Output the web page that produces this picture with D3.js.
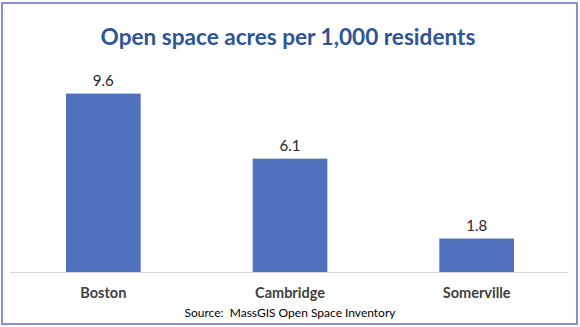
<!DOCTYPE html>
<html>
<head>
<meta charset="utf-8">
<script src="https://cdn.jsdelivr.net/npm/d3@7"></script>
<style>
  html, body { margin: 0; padding: 0; background: #fff; }
  svg { display: block; }
  text { font-family: Lato, "Open Sans", "Liberation Sans", sans-serif; }
</style>
</head>
<body>
<svg id="chart" width="580" height="327"></svg>
<script>
// Open space acres per 1,000 residents by city
const cities = ["Boston", "Cambridge", "Somerville"];
const acresPer1000 = [9.6, 6.1, 1.8];
const yDomain = [0, 12];

const svg = d3.select("#chart");
const W = 580, H = 327;

// outer frame
svg.append("rect")
  .attr("x", 2).attr("y", 3)
  .attr("width", W - 5).attr("height", H - 6)
  .attr("fill", "#fff")
  .attr("stroke", "#8292CC")
  .attr("stroke-width", 2);

const plot = { left: 10, right: 570, top: 49, bottom: 272 };

const x = d3.scaleBand()
  .domain(cities)
  .range([plot.left, plot.right])
  .paddingInner(0.6)
  .paddingOuter(0.3);

const y = d3.scaleLinear()
  .domain(yDomain)
  .range([plot.bottom, plot.top]);

// title
svg.append("text")
  .attr("x", 288).attr("y", 45)
  .attr("text-anchor", "middle")
  .attr("font-size", 22.6)
  .attr("font-weight", "bold")
  .attr("fill", "#2F5597")
  .text("Open space acres per 1,000 residents");

const data = cities.map((c, i) => ({ city: c, value: acresPer1000[i] }));

// bars
svg.append("g").selectAll("rect")
  .data(data)
  .join("rect")
  .attr("x", d => x(d.city))
  .attr("y", d => y(d.value))
  .attr("width", x.bandwidth())
  .attr("height", d => y(0) - y(d.value))
  .attr("fill", "#4F71BE");

// baseline
svg.append("line")
  .attr("x1", plot.left).attr("x2", plot.right - 2)
  .attr("y1", y(0) + 0.5).attr("y2", y(0) + 0.5)
  .attr("stroke", "#D9D9D9")
  .attr("stroke-width", 1);

// value labels
svg.append("g").selectAll("text")
  .data(data)
  .join("text")
  .attr("x", d => x(d.city) + x.bandwidth() / 2)
  .attr("y", d => y(d.value) - 8)
  .attr("text-anchor", "middle")
  .attr("font-size", 15)
  .attr("fill", "#262626")
  .text(d => d.value.toFixed(1));

// category axis labels
const xAxis = d3.axisBottom(x).tickSize(0).tickPadding(0);
const gx = svg.append("g")
  .attr("transform", `translate(0,${plot.bottom})`)
  .call(xAxis);
gx.select(".domain").remove();
gx.selectAll("text")
  .attr("dy", null)
  .attr("y", 26)
  .attr("font-size", 14.5)
  .attr("font-weight", "bold")
  .attr("fill", "#404040")
  .style("font-family", "Lato, 'Open Sans', sans-serif");

// source note
svg.append("text")
  .attr("x", 290).attr("y", 317)
  .attr("text-anchor", "middle")
  .attr("font-size", 12)
  .attr("fill", "#000")
  .attr("xml:space", "preserve")
  .style("white-space", "pre")
  .text("Source:  MassGIS Open Space Inventory");
</script>
</body>
</html>
